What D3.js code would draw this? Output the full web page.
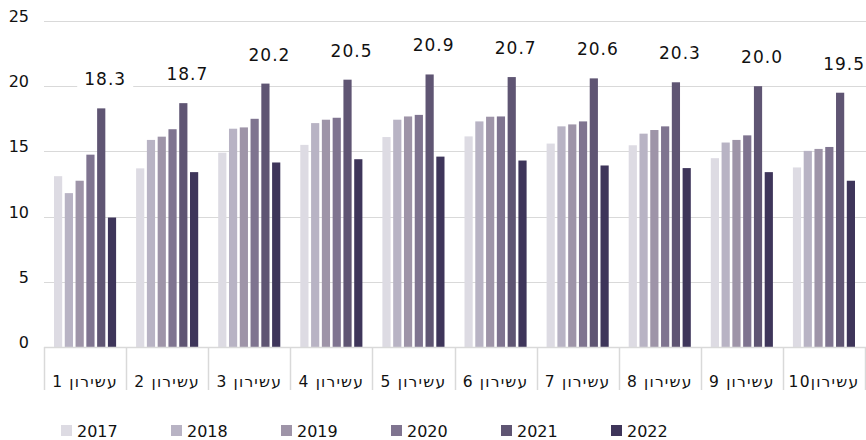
<!DOCTYPE html>
<html>
<head>
<meta charset="utf-8">
<script src="https://cdn.jsdelivr.net/npm/d3@7"></script>
<style>
  body { margin: 0; background: #fff; }
  text { font-family: "DejaVu Sans", sans-serif; fill: #111; }
</style>
</head>
<body>
<svg id="chart"></svg>
<script>
// Categories (deciles) and series (years)
const deciles = ['עשירון 1', 'עשירון 2', 'עשירון 3', 'עשירון 4', 'עשירון 5',
  'עשירון 6', 'עשירון 7', 'עשירון 8', 'עשירון 9', 'עשירון10'];
const years = ['2017', '2018', '2019', '2020', '2021', '2022'];
const colors = ['#dddbe3', '#b8b3c4', '#9e94a8', '#7f7490', '#5f5573', '#3e355a'];

// Values per year, one entry per decile
const v2017 = [13.1, 13.7, 14.9, 15.5, 16.1, 16.15, 15.6, 15.47, 14.48, 13.77];
const v2018 = [11.8, 15.88, 16.74, 17.17, 17.43, 17.3, 16.92, 16.36, 15.68, 15.04];
const v2019 = [12.75, 16.13, 16.84, 17.43, 17.68, 17.66, 17.07, 16.64, 15.88, 15.19];
const v2020 = [14.75, 16.7, 17.5, 17.58, 17.8, 17.68, 17.3, 16.92, 16.23, 15.34];
const v2021 = [18.3, 18.7, 20.2, 20.5, 20.9, 20.7, 20.6, 20.3, 20.0, 19.5];
const v2022 = [9.93, 13.41, 14.15, 14.4, 14.6, 14.3, 13.92, 13.72, 13.41, 12.75];
const yTicks = [0, 5, 10, 15, 20, 25];

const series = [v2017, v2018, v2019, v2020, v2021, v2022];

const width = 866;
const height = 440;
const margin = { top: 21, right: 1, bottom: 93, left: 44 };

const svg = d3.select('#chart')
  .attr('width', width)
  .attr('height', height);

// Scales
const x0 = d3.scaleBand()
  .domain(deciles)
  .range([margin.left, width - margin.right])
  .padding(0);

const x1 = d3.scaleBand()
  .domain(years)
  .range([10, x0.bandwidth() - 10])
  .paddingInner(0.24);

const y = d3.scaleLinear()
  .domain([0, 25])
  .range([height - margin.bottom, margin.top]);

const color = d3.scaleOrdinal().domain(years).range(colors);

// Gridlines
svg.append('g')
  .selectAll('line')
  .data(yTicks)
  .join('line')
  .attr('x1', margin.left)
  .attr('x2', width)
  .attr('y1', d => Math.round(y(d)) + 0.5)
  .attr('y2', d => Math.round(y(d)) + 0.5)
  .attr('stroke', '#d9d9d9')
  .attr('stroke-width', 1);

// Y tick labels
svg.append('g')
  .selectAll('text')
  .data(yTicks)
  .join('text')
  .attr('x', 29)
  .attr('y', d => y(d) + 1)
  .attr('text-anchor', 'end')
  .attr('font-size', 16)
  .text(d => d);

// Category separators below the axis
svg.append('g')
  .selectAll('line')
  .data(d3.range(deciles.length + 1))
  .join('line')
  .attr('x1', i => Math.round(margin.left + i * x0.step()) + 0.5)
  .attr('x2', i => Math.round(margin.left + i * x0.step()) + 0.5)
  .attr('y1', y(0))
  .attr('y2', y(0) + 43)
  .attr('stroke', '#d9d9d9')
  .attr('stroke-width', 1.5);

// Bars
const groups = svg.append('g')
  .selectAll('g')
  .data(deciles)
  .join('g')
  .attr('transform', d => `translate(${x0(d)},0)`);

groups.selectAll('rect')
  .data((d, i) => years.map((yr, j) => ({ year: yr, value: series[j][i] })))
  .join('rect')
  .attr('x', d => x1(d.year))
  .attr('width', x1.bandwidth())
  .attr('y', d => y(d.value))
  .attr('height', d => y(0) - y(d.value))
  .attr('fill', d => color(d.year));

// Value labels for 2021, on a white box
const labels = groups.append('g')
  .attr('transform', (d, i) =>
    `translate(${x1('2021') + x1.bandwidth() / 2 + 4},${y(v2021[i]) - 23})`);

labels.append('rect')
  .attr('x', -28)
  .attr('y', -15)
  .attr('width', 56)
  .attr('height', 20)
  .attr('fill', '#fff');

labels.append('text')
  .attr('text-anchor', 'middle')
  .attr('font-size', 17)
  .attr('letter-spacing', 1)
  .text((d, i) => v2021[i].toFixed(1));

// Baseline
svg.append('line')
  .attr('x1', margin.left)
  .attr('x2', width)
  .attr('y1', Math.round(y(0)) + 0.5)
  .attr('y2', Math.round(y(0)) + 0.5)
  .attr('stroke', '#d9d9d9')
  .attr('stroke-width', 1.5);

// Category labels
svg.append('g')
  .selectAll('text')
  .data(deciles)
  .join('text')
  .attr('x', d => x0(d) + x0.bandwidth() / 2)
  .attr('y', 387)
  .attr('text-anchor', 'middle')
  .attr('direction', 'rtl')
  .attr('font-size', 15.5)
  .attr('letter-spacing', 1.2)
  .text(d => d);

// Legend
const legend = svg.append('g')
  .selectAll('g')
  .data(years)
  .join('g')
  .attr('transform', (d, i) => `translate(${61 + i * 110},425)`);

legend.append('rect')
  .attr('width', 11)
  .attr('height', 11)
  .attr('fill', d => color(d));

legend.append('text')
  .attr('x', 16)
  .attr('y', 11.5)
  .attr('font-size', 16)
  .text(d => d);
</script>
</body>
</html>
